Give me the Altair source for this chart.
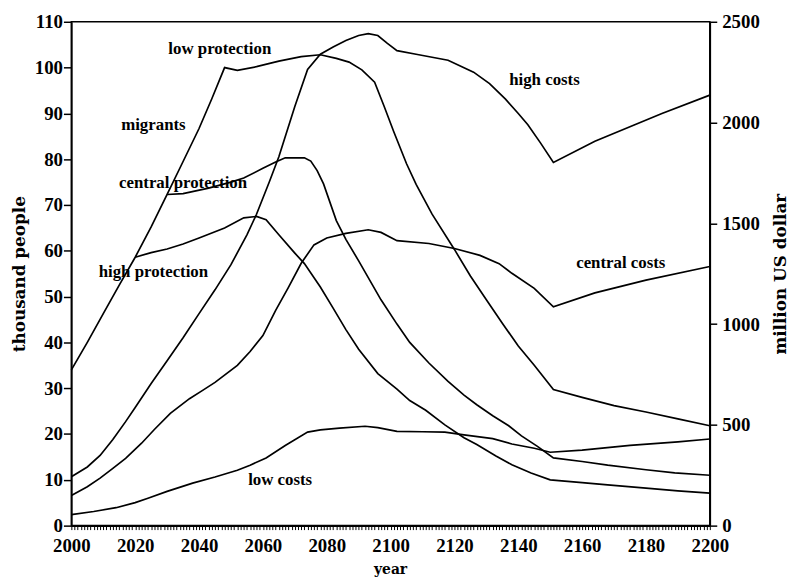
import altair as alt
import pandas as pd

# ---------------- data ----------------
# migrants, thousand people (left axis)
low_prot_years = [2000, 2005, 2010, 2015, 2020, 2025, 2030, 2035, 2040, 2044, 2048, 2052, 2058, 2065,
                  2072, 2078, 2083, 2087, 2091, 2095, 2098, 2101, 2105, 2108, 2113, 2120, 2125, 2130,
                  2135, 2140, 2145, 2151, 2160, 2170, 2180, 2190, 2200]
low_prot_vals = [34.0, 40.0, 46.3, 52.5, 58.6, 65.2, 72.3, 79.5, 86.7, 93.2, 100.0, 99.4, 100.2, 101.4,
                 102.4, 102.8, 102.0, 101.2, 99.5, 96.8, 91.5, 86.0, 79.0, 74.5, 68.0, 60.3, 54.5, 49.3,
                 44.2, 39.2, 35.0, 29.7, 28.0, 26.2, 24.8, 23.3, 21.8]

central_prot_years = [2030, 2035, 2043, 2050, 2054, 2060, 2064, 2067, 2073, 2075, 2077, 2079, 2083,
                      2086, 2090, 2097, 2102, 2106, 2112, 2118, 2123, 2127, 2132, 2137, 2141, 2146,
                      2151, 2160, 2168, 2180, 2189, 2200]
central_prot_vals = [72.3, 72.5, 73.7, 75.0, 75.9, 78.0, 79.4, 80.3, 80.3, 79.6, 77.5, 74.6, 66.6,
                     62.5, 57.8, 49.3, 44.0, 40.0, 35.5, 31.5, 28.5, 26.4, 24.0, 21.8, 19.6, 17.3,
                     14.8, 14.0, 13.2, 12.2, 11.5, 11.0]

high_prot_years = [2020, 2025, 2030, 2035, 2040, 2048, 2054, 2058, 2061, 2065, 2070, 2073, 2078, 2082,
                   2086, 2090, 2096, 2102, 2106, 2111, 2117, 2123, 2127, 2133, 2138, 2144, 2150, 2160,
                   2168, 2180, 2190, 2200]
high_prot_vals = [58.6, 59.6, 60.4, 61.5, 62.8, 65.0, 67.2, 67.5, 66.8, 63.5, 59.5, 57.2, 52.1, 47.5,
                  42.8, 38.5, 33.2, 29.8, 27.3, 25.2, 22.0, 19.2, 17.7, 15.2, 13.3, 11.5, 10.0, 9.4,
                  8.9, 8.2, 7.6, 7.1]

# costs, million US dollar (right axis)
high_cost_years = [2000, 2005, 2009, 2013, 2017, 2020, 2025, 2030, 2035, 2040, 2045, 2050, 2055, 2058,
                   2062, 2065, 2070, 2074, 2078, 2082, 2086, 2090, 2093, 2096, 2099, 2102, 2108, 2118,
                   2126, 2131, 2136, 2140, 2143, 2147, 2151, 2164, 2185, 2200]
high_cost_vals = [243, 291, 348, 427, 516, 586, 705, 818, 932, 1052, 1170, 1295, 1443, 1545,
                  1705, 1830, 2080, 2264, 2339, 2375, 2407, 2432, 2441, 2432, 2393, 2357, 2339, 2309,
                  2250, 2193, 2116, 2045, 1989, 1898, 1802, 1907, 2045, 2136]

central_cost_years = [2000, 2005, 2009, 2013, 2017, 2022, 2026, 2031, 2037, 2041, 2045, 2052, 2056,
                      2060, 2064, 2068, 2072, 2076, 2080, 2086, 2093, 2097, 2102, 2112, 2120, 2128,
                      2134, 2138, 2145, 2151, 2164, 2180, 2200]
central_cost_vals = [150, 193, 236, 284, 334, 409, 477, 557, 630, 670, 711, 795, 864,
                     943, 1068, 1182, 1302, 1393, 1427, 1450, 1468, 1455, 1414, 1400, 1375, 1341,
                     1300, 1252, 1177, 1086, 1155, 1218, 1286]

low_cost_years = [2000, 2007, 2014, 2020, 2024, 2030, 2038, 2045, 2052, 2056, 2061, 2067, 2074, 2078,
                  2084, 2092, 2096, 2102, 2110, 2117, 2123, 2132, 2138, 2145, 2150, 2160, 2175, 2190,
                  2200]
low_cost_vals = [55, 70, 89, 114, 136, 170, 211, 241, 275, 300, 336, 398, 464, 475,
                 484, 493, 486, 468, 466, 464, 450, 432, 405, 384, 364, 375, 398, 416,
                 430]

# curve labels (placed in thousand-people units)
label_texts = ["low protection", "migrants", "central protection", "high protection",
               "high costs", "central costs", "low costs"]
label_years = [2046.5, 2025.7, 2035.0, 2025.7, 2148.2, 2172.1, 2065.4]
label_vals = [104.0, 87.5, 74.8, 55.3, 97.3, 57.3, 10.0]

x_tick_values = list(range(2000, 2201, 1))
left_ticks = list(range(0, 111, 10))
right_ticks = list(range(0, 2501, 500))


def frame(name, years, vals, col):
    return pd.DataFrame({"year": years, col: vals, "series": name})


mig = pd.concat([
    frame("low protection", low_prot_years, low_prot_vals, "people"),
    frame("central protection", central_prot_years, central_prot_vals, "people"),
    frame("high protection", high_prot_years, high_prot_vals, "people"),
])
costs = pd.concat([
    frame("high costs", high_cost_years, high_cost_vals, "cost"),
    frame("central costs", central_cost_years, central_cost_vals, "cost"),
    frame("low costs", low_cost_years, low_cost_vals, "cost"),
])
labels = pd.DataFrame({"text": label_texts, "year": label_years, "people": label_vals})

SERIF = "Liberation Serif"
TITLE_FONT = "DejaVu Serif"

x_enc = alt.X(
    "year:Q",
    scale=alt.Scale(domain=[2000, 2200], nice=False, zero=False),
    axis=alt.Axis(
        values=x_tick_values, format="d",
        labelExpr="datum.value % 20 == 0 ? datum.label : ''",
        tickSize=4, tickWidth=1, tickColor="black",
        labelPadding=7, labelFont=SERIF, labelFontSize=19, labelFontWeight="bold",
        labelColor="black", labelOverlap=False, labelFlush=False,
        grid=False, domainColor="black", domainWidth=1.6,
        title="year", titleFont=TITLE_FONT, titleFontSize=14, titleFontWeight="bold",
        titleColor="black", titleX=322, titleY=48, titleAlign="center",
        titleBaseline="alphabetic",
    ),
)

y_left = alt.Y(
    "people:Q",
    scale=alt.Scale(domain=[0, 110], nice=False),
    axis=alt.Axis(
        values=left_ticks, format="d", tickSize=8, tickWidth=1.5, tickColor="black",
        labelPadding=1, labelFont=SERIF, labelFontSize=19, labelFontWeight="bold",
        labelColor="black", grid=False, domainColor="black", domainWidth=1.6,
        labelFlush=False,
        title="thousand people", titleFont=TITLE_FONT, titleFontSize=17,
        titleFontWeight="bold", titleColor="black", titleAngle=270,
        titleX=-47, titleY=254.5, titleAlign="center", titleBaseline="alphabetic",
    ),
)

y_right = alt.Y(
    "cost:Q",
    scale=alt.Scale(domain=[0, 2500], nice=False),
    axis=alt.Axis(
        orient="right", values=right_ticks, format="d", tickSize=7, tickWidth=1.5,
        tickColor="black",
        labelPadding=5, labelFont=SERIF, labelFontSize=19, labelFontWeight="bold",
        labelColor="black", grid=False, domainColor="black", domainWidth=1.6,
        labelFlush=False,
        title="million US dollar", titleFont=TITLE_FONT, titleFontSize=17,
        titleFontWeight="bold", titleColor="black", titleAngle=270,
        titleX=76, titleY=254.5, titleAlign="center", titleBaseline="alphabetic",
    ),
)

mig_lines = alt.Chart(mig).mark_line(color="black", strokeWidth=1.7).encode(
    x=x_enc, y=y_left, detail="series:N"
)
label_layer = alt.Chart(labels).mark_text(
    font=SERIF, fontSize=17, fontWeight="bold", color="black", align="center", baseline="middle"
).encode(x=x_enc, y=y_left, text="text:N")

cost_lines = alt.Chart(costs).mark_line(color="black", strokeWidth=1.7).encode(
    x=x_enc, y=y_right, detail="series:N"
)

chart = (
    alt.layer(alt.layer(mig_lines, label_layer), cost_lines)
    .resolve_scale(y="independent")
    .properties(
        width=645, height=509,
        autosize=alt.AutoSizeParams(type="none"),
        padding={"left": 64, "top": 11, "right": 81, "bottom": 53},
        background="white",
    )
    .configure_view(stroke="black", strokeWidth=1.6)
)

chart.save("out.html", embed_options={"renderer": "svg", "actions": False})
